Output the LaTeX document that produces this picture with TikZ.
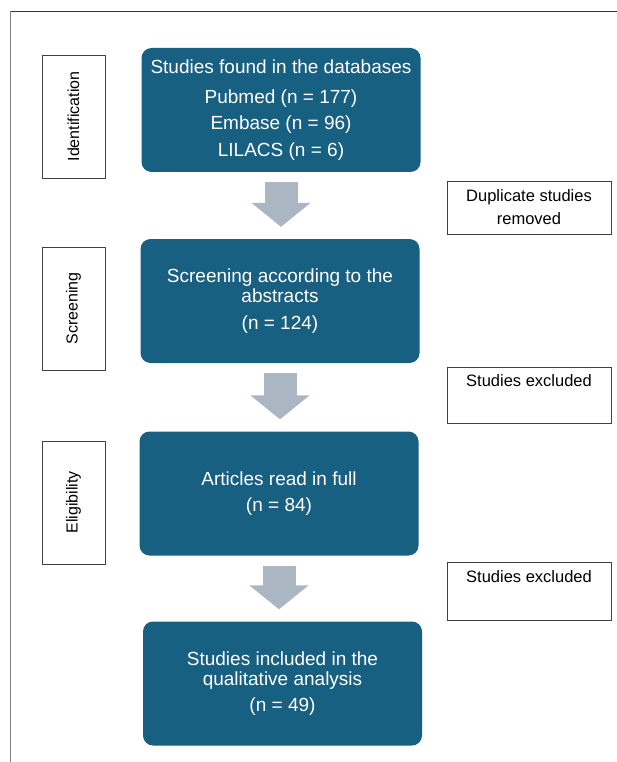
\documentclass[tikz,border=0pt]{standalone}
\usepackage{fontspec}
\setmainfont{Liberation Sans}
\usetikzlibrary{arrows.meta, positioning}
\definecolor{prismablue}{RGB}{24,96,130}
\definecolor{arrowgray}{RGB}{171,182,195}

\begin{document}
\begin{tikzpicture}[x=1pt, y=-1pt,
  arr/.style={-{Triangle[width=58pt,length=24pt]}, line width=33pt, arrowgray, shorten <=10pt, shorten >=12pt},
  stagebox/.style={rectangle, rounded corners=10pt, fill=prismablue, text=white, minimum width=279pt, minimum height=124pt, align=center, font=\fontsize{19}{20.5}\selectfont},
  phasebox/.style={rectangle, draw=black!75, fill=white, rotate=90, minimum width=123pt, minimum height=63pt, font=\fontsize{16}{18}\selectfont},
  notebox/.style={rectangle, draw=black!75, fill=white, minimum width=164pt, align=center, font=\fontsize{16.5}{23}\selectfont}
]
\useasboundingbox (0,0) rectangle (617,762);

% frame
\draw[black!80] (10,11) -- (617,11);
\draw[gray] (10,11) -- (10,762);

\node[stagebox] (found)  at (281,110)   {Studies found in the databases\\[9pt]Pubmed (n = 177)\\[6pt]Embase (n = 96)\\[6pt]LILACS (n = 6)};
\node[stagebox] (screen) at (280,301)   {Screening according to the\\abstracts\\[6pt](n = 124)};
\node[stagebox] (full)   at (279,493.5) {Articles read in full\\[6pt](n = 84)};
\node[stagebox] (incl)   at (282.5,683.5) {Studies included in the\\qualitative analysis\\[5pt](n = 49)};

\node[phasebox] (ident) at (73.5,116.5) {Identification};
\node[phasebox] (scr)   at (73.5,308.5) {Screening};
\node[phasebox] (elig)  at (73.5,502.5) {Eligibility};

\node[notebox, minimum height=53pt] (dup)   at (529,207.5) {Duplicate studies\\removed};
\node[notebox, minimum height=56pt] (excla) at (529,395)   {Studies excluded\\\strut};
\node[notebox, minimum height=58pt] (exclb) at (529,591)   {Studies excluded\\\strut};

\draw[arr] (found.south) -- (found.south |- screen.north);
\draw[arr] (screen.south) -- (screen.south |- full.north);
\draw[arr] (full.south) -- (full.south |- incl.north);
\end{tikzpicture}
\end{document}
